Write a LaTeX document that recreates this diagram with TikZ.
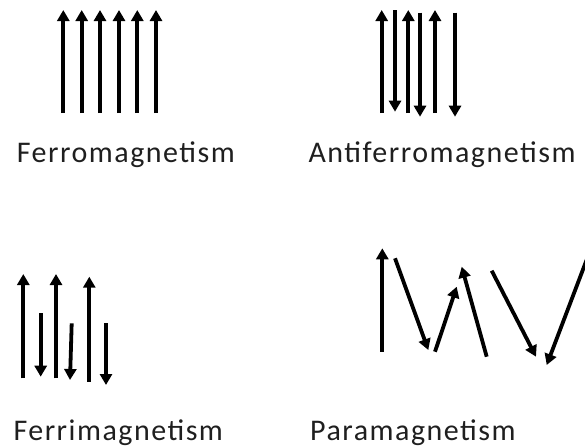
\documentclass[tikz,border=0pt]{standalone}
\usepackage{fontspec}
\setmainfont{Carlito}
\newfontfamily\lblfont[LetterSpace=5]{Carlito}
\usetikzlibrary{arrows.meta}
\tikzset{
  spin/.style={line width=3.8pt,-{Triangle[length=11pt,width=12pt]}},
  lbl/.style={anchor=base west,inner sep=0pt,font=\lblfont\fontsize{30}{34}\selectfont,text=black!88}
}
\begin{document}
\begin{tikzpicture}[x=1pt,y=-1pt]
\useasboundingbox (0,0) rectangle (585,447);
% Ferromagnetism
\foreach \x in {63.3,81.7,100,119,137.3,156}{
  \draw[spin] (\x,113) -- (\x,10);
}
\node[lbl] (ferro) at (16.7,162.7) {Ferromagnetism};
% Antiferromagnetism
\foreach \x in {381.7,408.3,435}{
  \draw[spin] (\x,113) -- (\x,10);
}
\draw[spin] (395,10) -- (395,111.7);
\draw[spin] (420,12.7) -- (420,116.7);
\draw[spin] (455,12.7) -- (455,116.7);
\node[lbl] (anti) at (308.3,162.7) {Antiferromagnetism};
% Ferrimagnetism
\draw[spin] (23.3,378.3) -- (23.3,274);
\draw[spin] (56,378.3) -- (56,274);
\draw[spin] (89.3,381.7) -- (89.3,276.7);
\draw[spin] (40.7,313.3) -- (40.7,376.7);
\draw[spin] (71.7,323.3) -- (70,380);
\draw[spin] (106,323.3) -- (106,385);
\node[lbl] (ferri) at (13.3,440) {Ferrimagnetism};
% Paramagnetism
\draw[spin] (382.3,351.7) -- (382.3,248.3);
\draw[spin] (395,258.3) -- (428.3,350);
\draw[spin] (435,351.7) -- (456.7,286.7);
\draw[spin] (486.7,356.7) -- (461.7,266.7);
\draw[spin] (491.7,270.7) -- (536,356.7);
\draw[spin] (590,251) -- (546.7,365);
\node[lbl] (para) at (310,440) {Paramagnetism};
\end{tikzpicture}
\end{document}
